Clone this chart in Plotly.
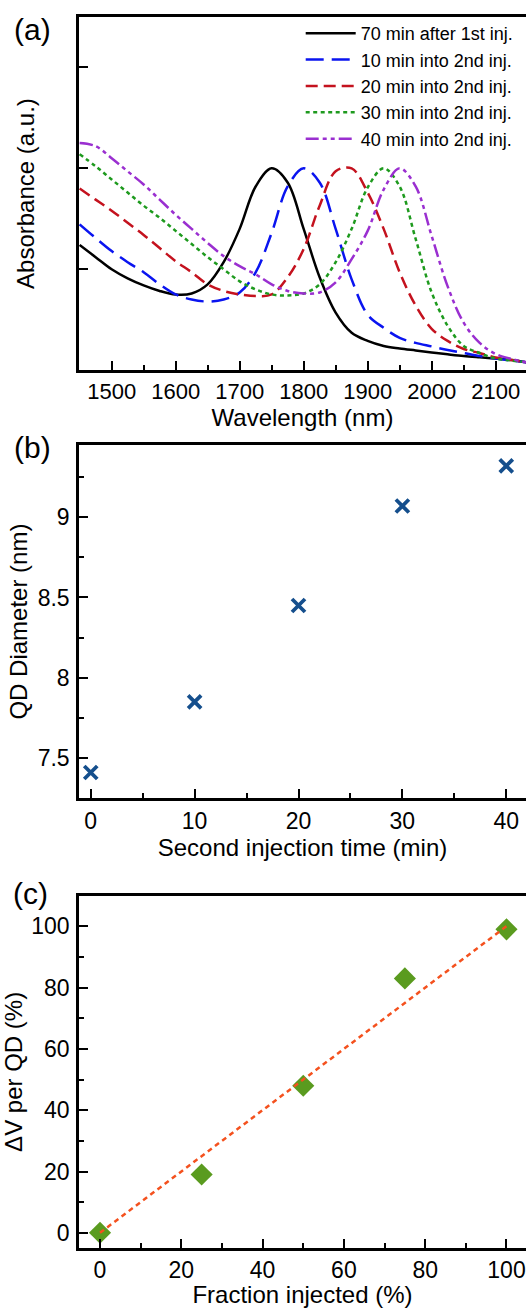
import plotly.graph_objects as go

# ---------------- Panel (a): absorbance spectra ----------------
wl = [1450, 1475, 1500, 1525, 1550, 1575, 1600, 1625, 1650, 1675, 1700, 1725, 1750,
      1775, 1800, 1825, 1850, 1875, 1900, 1925, 1950, 1975, 2000, 2025, 2050, 2075,
      2100, 2125, 2150]
abs_70min_1st = [1.24, 1.12, 1.00, 0.91, 0.84, 0.785, 0.75, 0.76, 0.85, 1.07, 1.40, 1.82, 2.00,
                 1.86, 1.40, 0.92, 0.57, 0.37, 0.29, 0.24, 0.215, 0.195, 0.175, 0.157, 0.14, 0.127,
                 0.115, 0.10, 0.076]
abs_10min_2nd = [1.445, 1.31, 1.18, 1.07, 0.97, 0.85, 0.75, 0.70, 0.68, 0.70, 0.77, 0.97, 1.36,
                 1.82, 2.00, 1.86, 1.40, 0.90, 0.55, 0.42, 0.32, 0.27, 0.235, 0.20, 0.17, 0.14,
                 0.115, 0.095, 0.076]
abs_20min_2nd = [1.80, 1.69, 1.58, 1.46, 1.34, 1.21, 1.08, 0.97, 0.85, 0.785, 0.75, 0.735, 0.75,
                 0.92, 1.20, 1.63, 1.97, 2.00, 1.76, 1.40, 0.97, 0.64, 0.41, 0.29, 0.21, 0.17,
                 0.125, 0.10, 0.076]
abs_30min_2nd = [2.14, 2.02, 1.89, 1.76, 1.63, 1.51, 1.38, 1.25, 1.12, 1.00, 0.88, 0.80, 0.75,
                 0.74, 0.76, 0.85, 1.07, 1.40, 1.81, 2.00, 1.82, 1.30, 0.77, 0.44, 0.24, 0.17,
                 0.115, 0.095, 0.076]
abs_40min_2nd = [2.25, 2.22, 2.10, 1.97, 1.84, 1.69, 1.54, 1.40, 1.26, 1.13, 1.03, 0.95, 0.85,
                 0.785, 0.76, 0.77, 0.87, 1.10, 1.38, 1.79, 2.00, 1.82, 1.33, 0.83, 0.47, 0.27,
                 0.16, 0.11, 0.076]
spec_names = ["70 min after 1st inj.", "10 min into 2nd inj.", "20 min into 2nd inj.",
              "30 min into 2nd inj.", "40 min into 2nd inj."]

# ---------------- Panel (b): QD diameter ----------------
inj_time = [0, 10, 20, 30, 40]
qd_diameter = [7.41, 7.85, 8.45, 9.07, 9.32]

# ---------------- Panel (c): volume change ----------------
fraction = [0, 25, 50, 75, 100]
dv_per_qd = [0, 19, 48, 83, 99]
fit_x = [0, 100]
fit_y = [0, 100]

FONT = "Arial, 'Liberation Sans', sans-serif"
FW, FH = 526, 1308


def fx(page_x):
    return page_x / FW


def fy(page_y):
    return 1 - page_y / FH


fig = go.Figure()

spectra = [abs_70min_1st, abs_10min_2nd, abs_20min_2nd, abs_30min_2nd, abs_40min_2nd]
colors = ["#000000", "#0a14f0", "#c4121e", "#1e9a1e", "#9a2fd0"]
dashes = ["solid", "18px,8px", "12px,6px", "4px,3.5px", "13px,4px,4px,4px,4px,4px"]
for ys, nm, c, d in zip(spectra, spec_names, colors, dashes):
    fig.add_trace(go.Scatter(x=wl, y=ys, name=nm, mode="lines", line_shape="spline",
                             line=dict(color=c, width=2.5, dash=d),
                             xaxis="x", yaxis="y", showlegend=True))

fig.add_trace(go.Scatter(x=inj_time, y=qd_diameter, mode="markers",
                         marker=dict(symbol="x-thin", size=13, color="#154f8d",
                                     line=dict(width=3.8, color="#154f8d")),
                         xaxis="x2", yaxis="y2", showlegend=False))

fig.add_trace(go.Scatter(x=fraction, y=dv_per_qd, mode="markers",
                         marker=dict(symbol="diamond", size=17, color="#5a9b1f"),
                         xaxis="x3", yaxis="y3", showlegend=False))
fig.add_trace(go.Scatter(x=fit_x, y=fit_y, mode="lines",
                         line=dict(color="#f4511e", width=2.5, dash="5px,4px"),
                         xaxis="x3", yaxis="y3", showlegend=False))


def axis_common(fs):
    return dict(showline=True, linecolor="black", linewidth=2.5, ticks="inside",
                tickwidth=2, ticklen=9, tickcolor="black", showgrid=False, zeroline=False,
                tickfont=dict(size=fs, color="black", family=FONT))


def minor(dt, t0):
    return dict(ticks="inside", ticklen=5, tickwidth=2, dtick=dt, tick0=t0, tickcolor="black")


xdom = [fx(79), 1]

fig.update_layout(
    width=FW, height=FH,
    margin=dict(l=0, r=0, t=0, b=0),
    paper_bgcolor="white", plot_bgcolor="white",
    font=dict(family=FONT, color="black"),
    xaxis=dict(**axis_common(22), domain=xdom, range=[1449, 2147.4], dtick=100, tick0=1500,
               mirror=True, anchor="y", minor=minor(50, 1450),
               title=dict(text="Wavelength (nm)", font=dict(size=24), standoff=0)),
    yaxis=dict(**axis_common(22), domain=[fy(371), fy(17)], range=[0, 3.5], dtick=1, tick0=0,
               showticklabels=False, anchor="x",
               title=dict(text="Absorbance (a.u.)", font=dict(size=24), standoff=35)),
    xaxis2=dict(**axis_common(23), domain=xdom, range=[-1.13, 41.9], dtick=10, tick0=0,
                mirror=True, anchor="y2", minor=minor(5, 0),
                title=dict(text="Second injection time (min)", font=dict(size=24), standoff=5)),
    yaxis2=dict(**axis_common(23), domain=[fy(800), fy(446)], range=[7.25, 9.45], dtick=0.5,
                tick0=7.5, anchor="x2", minor=minor(0.25, 7.5), ticklabelstandoff=2,
                title=dict(text="QD Diameter (nm)", font=dict(size=24), standoff=4)),
    xaxis3=dict(**axis_common(23), domain=xdom, range=[-5.17, 104.8], dtick=20, tick0=0,
                mirror=True, anchor="y3", minor=minor(10, 0),
                title=dict(text="Fraction injected (%)", font=dict(size=24), standoff=8)),
    yaxis3=dict(**axis_common(23), domain=[fy(1251), fy(897.7)], range=[-5, 110], dtick=20,
                tick0=0, anchor="x3", minor=minor(10, 0), ticklabelstandoff=2,
                title=dict(text="ΔV per QD (%)", font=dict(size=24), standoff=9)),
    legend=dict(x=fx(300.7), y=fy(15), xanchor="left", yanchor="top",
                bgcolor="rgba(0,0,0,0)", borderwidth=0, itemwidth=50,
                font=dict(size=18, color="black", family=FONT), tracegroupgap=0),
    annotations=[
        dict(text="(a)", x=fx(32), y=fy(30), xref="paper", yref="paper", showarrow=False,
             font=dict(size=30, color="black", family=FONT), xanchor="center", yanchor="middle"),
        dict(text="(b)", x=fx(32), y=fy(449), xref="paper", yref="paper", showarrow=False,
             font=dict(size=30, color="black", family=FONT), xanchor="center", yanchor="middle"),
        dict(text="(c)", x=fx(30), y=fy(896), xref="paper", yref="paper", showarrow=False,
             font=dict(size=30, color="black", family=FONT), xanchor="center", yanchor="middle"),
    ],
)

# remove the default 8 px page margin so the figure fills the window exactly
fig.write_html("out.html",
               config={"displayModeBar": False},
               post_script="document.body.style.margin='0';"
                           "document.body.style.overflow='hidden';")
